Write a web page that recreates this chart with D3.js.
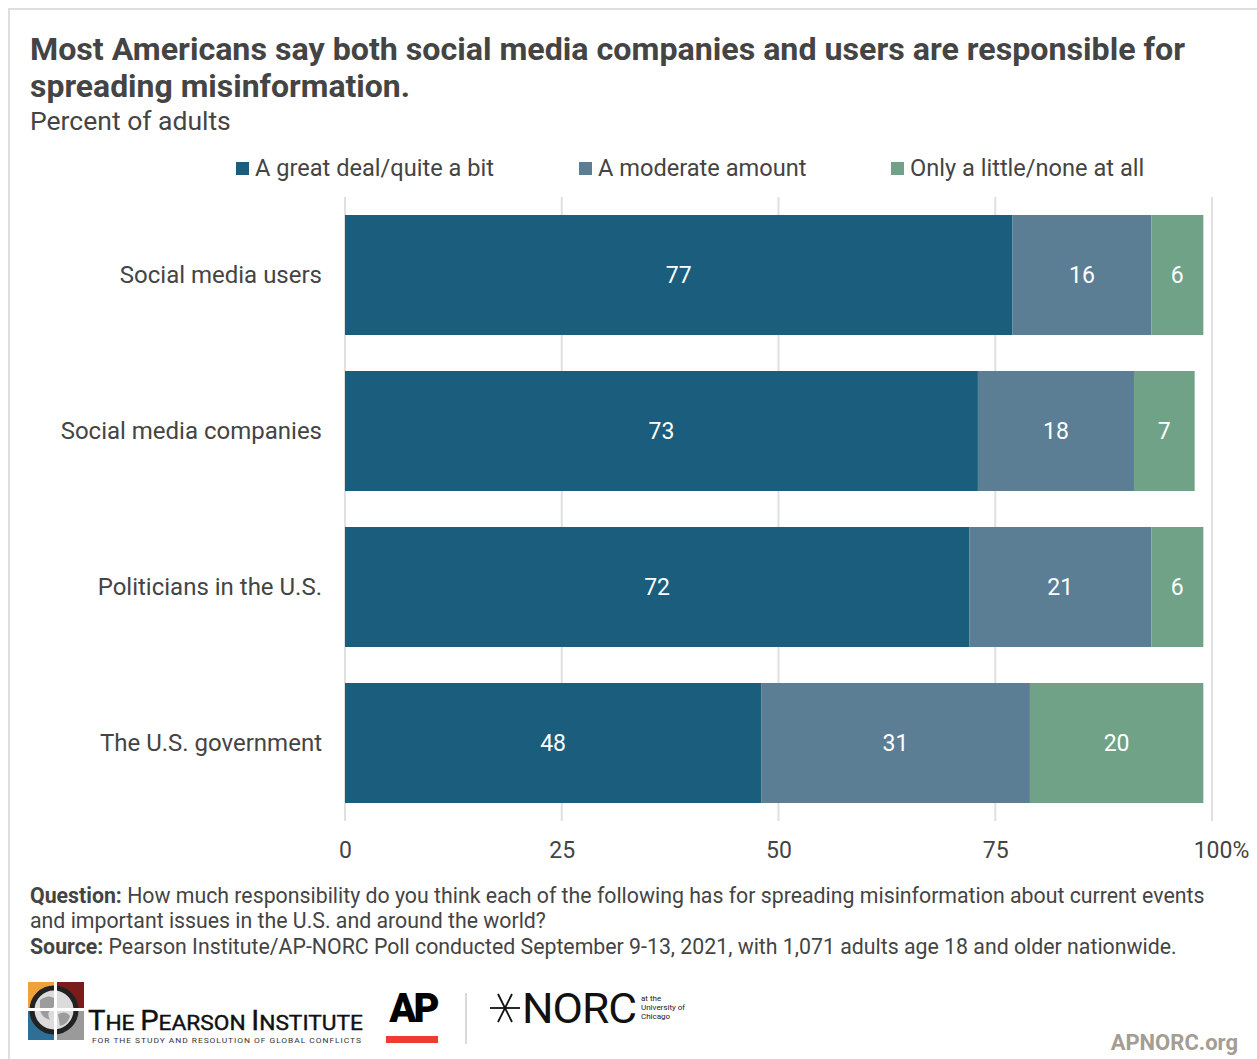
<!DOCTYPE html>
<html>
<head>
<meta charset="utf-8">
<script src="https://cdn.jsdelivr.net/npm/d3@7"></script>
<style>
  html, body { margin: 0; padding: 0; background: #fff; }
  svg { display: block; }
  text { font-family: Roboto, "Noto Sans", sans-serif; }
</style>
</head>
<body>
<svg id="chart" width="1257" height="1059"></svg>
<script>
// Survey responses, percent of adults
const categories = ["Social media users", "Social media companies", "Politicians in the U.S.", "The U.S. government"];
const seriesNames = ["A great deal/quite a bit", "A moderate amount", "Only a little/none at all"];
const greatDeal = [77, 73, 72, 48];
const moderate = [16, 18, 21, 31];
const littleNone = [6, 7, 6, 20];
const tickValues = [0, 25, 50, 75, 100];
const tickLabels = ["0", "25", "50", "75", "100%"];

const colors = ["#1a5d7c", "#5b7e95", "#6fa286"];
const textColor = "#444";

const svg = d3.select("#chart");

// light frame
svg.append("rect")
  .attr("x", 9).attr("y", 9).attr("width", 1270).attr("height", 1070)
  .attr("fill", "none").attr("stroke", "#dedede").attr("stroke-width", 2);

// Title & subtitle
svg.append("text").attr("x", 30).attr("y", 60)
  .attr("font-size", 32).attr("font-weight", 700).attr("fill", textColor)
  .attr("textLength", 1155).attr("lengthAdjust", "spacingAndGlyphs")
  .text("Most Americans say both social media companies and users are responsible for");
svg.append("text").attr("x", 30).attr("y", 97)
  .attr("font-size", 32).attr("font-weight", 700).attr("fill", textColor)
  .attr("textLength", 380).attr("lengthAdjust", "spacingAndGlyphs")
  .text("spreading misinformation.");
svg.append("text").attr("x", 30).attr("y", 130)
  .attr("font-size", 26.5).attr("fill", textColor)
  .text("Percent of adults");

// Scales
const x = d3.scaleLinear().domain([0, 100]).range([345, 1212]);
const y = d3.scaleBand().domain(categories).range([197, 821])
  .paddingInner(36 / 156).paddingOuter(18 / 156);

// Legend
const legendX = [236, 579, 891];
const legend = svg.append("g");
seriesNames.forEach((name, i) => {
  legend.append("rect").attr("x", legendX[i]).attr("y", 162)
    .attr("width", 13).attr("height", 13).attr("fill", colors[i]);
  legend.append("text").attr("x", legendX[i] + 19).attr("y", 176)
    .attr("font-size", 23.6).attr("fill", textColor).text(name);
});

// Gridlines
svg.append("g").selectAll("line").data(tickValues).join("line")
  .attr("x1", d => x(d)).attr("x2", d => x(d))
  .attr("y1", 197).attr("y2", 821)
  .attr("stroke", "#e0e0e0").attr("stroke-width", 2);

// Stacked bars
const rows = categories.map((c, i) => ({ category: c, values: [greatDeal[i], moderate[i], littleNone[i]] }));
const segments = [];
rows.forEach(r => {
  let start = 0;
  r.values.forEach((v, k) => {
    segments.push({ category: r.category, k, v, x0: start, x1: start + v });
    start += v;
  });
});

const bars = svg.append("g");
bars.selectAll("rect").data(segments).join("rect")
  .attr("x", d => x(d.x0))
  .attr("y", d => y(d.category))
  .attr("width", d => x(d.x1) - x(d.x0))
  .attr("height", y.bandwidth())
  .attr("fill", d => colors[d.k]);

bars.selectAll("text").data(segments).join("text")
  .attr("x", d => (x(d.x0) + x(d.x1)) / 2)
  .attr("y", d => y(d.category) + y.bandwidth() / 2)
  .attr("dy", "0.36em")
  .attr("text-anchor", "middle")
  .attr("font-family", "'Open Sans', 'Noto Sans', sans-serif")
  .attr("font-size", 23).attr("fill", "#fff")
  .text(d => d.v);

// Category axis
const yAxis = svg.append("g").attr("transform", "translate(322,0)")
  .call(d3.axisLeft(y).tickSize(0).tickPadding(0));
yAxis.select(".domain").remove();
yAxis.selectAll("text").attr("font-family", "Roboto, sans-serif")
  .attr("font-size", 24).attr("fill", textColor);

// Value axis
const xAxis = svg.append("g").attr("transform", "translate(0,842)")
  .call(d3.axisBottom(x).tickValues(tickValues).tickSize(0).tickPadding(0)
    .tickFormat((d, i) => tickLabels[i]));
xAxis.select(".domain").remove();
xAxis.selectAll("text").attr("font-family", "Roboto, sans-serif")
  .attr("font-size", 23).attr("fill", textColor)
  .attr("dx", (d, i) => i === tickLabels.length - 1 ? 9 : 0);

// Notes
const notes = svg.append("g").attr("font-size", 21.3).attr("fill", textColor);
const n1 = notes.append("text").attr("x", 30).attr("y", 903);
n1.append("tspan").attr("font-weight", 700).text("Question:");
n1.append("tspan").text(" How much responsibility do you think each of the following has for spreading misinformation about current events");
notes.append("text").attr("x", 30).attr("y", 928)
  .text("and important issues in the U.S. and around the world?");
const n3 = notes.append("text").attr("x", 30).attr("y", 954);
n3.append("tspan").attr("font-weight", 700).text("Source:");
n3.append("tspan").text(" Pearson Institute/AP-NORC Poll conducted September 9-13, 2021, with 1,071 adults age 18 and older nationwide.");

// Pearson Institute mark
const logo = svg.append("g");
logo.append("rect").attr("x", 28).attr("y", 982).attr("width", 27).attr("height", 27).attr("fill", "#f0a23a");
logo.append("rect").attr("x", 57).attr("y", 982).attr("width", 27).attr("height", 27).attr("fill", "#7a1c1c");
logo.append("rect").attr("x", 28).attr("y", 1011).attr("width", 27).attr("height", 29).attr("fill", "#2d6f95");
logo.append("rect").attr("x", 57).attr("y", 1011).attr("width", 27).attr("height", 29).attr("fill", "#9a9a9a");
logo.append("circle").attr("cx", 54).attr("cy", 1010).attr("r", 22)
  .attr("fill", "#dcdcdc").attr("stroke", "#222").attr("stroke-width", 5);
logo.append("path").attr("d", "M40,1000 q8,-6 14,-2 q6,6 -2,10 q-6,4 -2,12 q-8,-2 -10,-10 z M58,1014 q8,-4 12,2 q-2,8 -10,10 z")
  .attr("fill", "#9c9c9c");
logo.append("rect").attr("x", 54).attr("y", 978).attr("width", 3).attr("height", 64).attr("fill", "#fff");
logo.append("rect").attr("x", 26).attr("y", 1008).attr("width", 60).attr("height", 3).attr("fill", "#fff");

const pt = logo.append("text").attr("x", 88).attr("y", 1030)
  .attr("font-family", "'Liberation Sans Narrow', 'Liberation Sans', sans-serif")
  .attr("fill", "#111").attr("stroke", "#111").attr("stroke-width", 0.4)
  .attr("textLength", 275).attr("lengthAdjust", "spacingAndGlyphs");
[["T", 27], ["HE ", 21], ["P", 27], ["EARSON ", 21], ["I", 27], ["NSTITUTE", 21]].forEach(([s, f]) =>
  pt.append("tspan").attr("font-size", f).text(s));
logo.append("text").attr("x", 92).attr("y", 1043)
  .attr("font-size", 7).attr("fill", "#333").attr("letter-spacing", 0.8)
  .attr("textLength", 270).attr("lengthAdjust", "spacingAndGlyphs")
  .text("FOR THE STUDY AND RESOLUTION OF GLOBAL CONFLICTS");

// AP mark
logo.append("text").attr("x", 413).attr("y", 1022).attr("text-anchor", "middle")
  .attr("font-size", 40).attr("font-weight", 900).attr("fill", "#000")
  .attr("letter-spacing", -3).text("AP");
logo.append("rect").attr("x", 386).attr("y", 1036).attr("width", 52).attr("height", 7).attr("fill", "#ef3b36");
logo.append("line").attr("x1", 466).attr("x2", 466).attr("y1", 993).attr("y2", 1044)
  .attr("stroke", "#ccc").attr("stroke-width", 1.5);

// NORC mark
const star = logo.append("g").attr("transform", "translate(505,1008)").attr("stroke", "#111").attr("stroke-width", 1.8);
[[-15, 0, 15, 0], [-7, -14, 7, 14], [7, -14, -7, 14]].forEach(([a, b, c, e]) =>
  star.append("line").attr("x1", a).attr("y1", b).attr("x2", c).attr("y2", e));
logo.append("text").attr("x", 522).attr("y", 1023)
  .attr("font-size", 43).attr("fill", "#111").attr("letter-spacing", -1)
  .attr("textLength", 114).attr("lengthAdjust", "spacingAndGlyphs").text("NORC");
["at the", "University of", "Chicago"].forEach((t, i) =>
  logo.append("text").attr("x", 641).attr("y", 1001 + i * 9)
    .attr("font-size", 8).attr("fill", "#222").text(t));

svg.append("text").attr("x", 1238).attr("y", 1050).attr("text-anchor", "end")
  .attr("font-size", 22).attr("font-weight", 700).attr("fill", "#a39d92")
  .text("APNORC.org");
</script>
</body>
</html>
